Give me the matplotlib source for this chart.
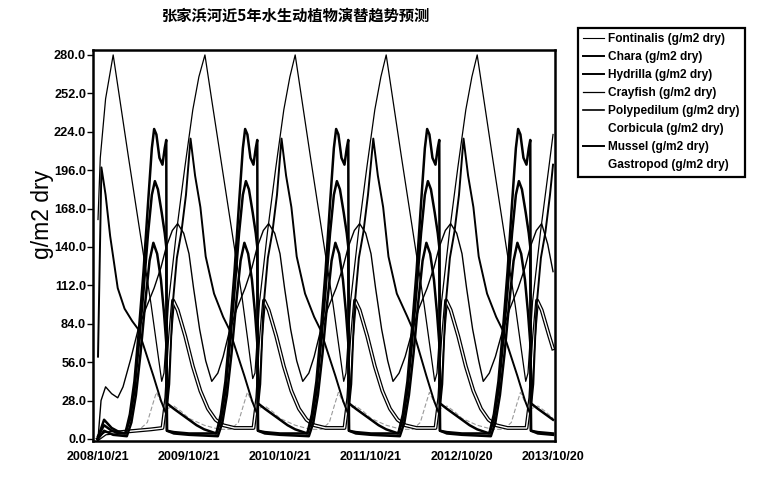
import matplotlib.pyplot as plt
import matplotlib.patheffects as pe
from matplotlib.lines import Line2D

plt.rcParams["font.family"] = ["Liberation Sans", "DejaVu Sans"]

TITLE = "张家浜河近5年水生动植物演替趋势预测"
Y_LABEL = "g/m2 dry"
TICK_MONTHS = [0, 12, 24, 36, 48, 60]
TICK_DATES = ["2008/10/21", "2009/10/21", "2010/10/21", "2011/10/21", "2012/10/20", "2013/10/20"]
Y_TICKS = [0, 28, 56, 84, 112, 140, 168, 196, 224, 252, 280]

NAMES = [
    "Fontinalis (g/m2 dry)",
    "Chara (g/m2 dry)",
    "Hydrilla (g/m2 dry)",
    "Crayfish (g/m2 dry)",
    "Polypedilum (g/m2 dry)",
    "Corbicula (g/m2 dry)",
    "Mussel (g/m2 dry)",
    "Gastropod (g/m2 dry)",
]

# months since 2008/10/21 and biomass (g/m2 dry)
fontinalis_m = [0.0, 0.3, 1.0, 2.0, 3.0, 4.0, 5.0, 6.0, 7.0, 7.8, 8.4, 8.7, 9.3, 10.35, 11.45,
                12.5, 13.3, 14.1, 15.0, 16.0, 17.0, 18.0, 19.0, 19.8, 20.4, 20.7, 21.3, 22.35, 23.45,
                24.5, 25.3, 26.0, 27.0, 28.0, 29.0, 30.0, 31.0, 31.8, 32.4, 32.7, 33.3, 34.35, 35.45,
                36.5, 37.3, 38.0, 39.0, 40.0, 41.0, 42.0, 43.0, 43.8, 44.4, 44.7, 45.3, 46.35, 47.45,
                48.5, 49.3, 50.0, 51.0, 52.0, 53.0, 54.0, 55.0, 55.8, 56.4, 56.7, 57.3, 58.35, 59.45, 60.0]
fontinalis_v = [160, 205, 248, 280, 243, 206, 170, 134, 98, 66, 42, 48, 100, 151, 198,
                240, 264, 280, 247, 211, 175, 139, 103, 70, 44, 48, 100, 151, 198,
                240, 264, 280, 243, 206, 170, 134, 98, 66, 42, 48, 100, 151, 198,
                240, 264, 280, 243, 206, 170, 134, 98, 66, 42, 48, 100, 151, 198,
                240, 264, 280, 243, 206, 170, 134, 98, 66, 42, 48, 100, 151, 198, 222]

chara_m = [0.0, 0.8, 1.8, 2.8,
           3.6, 4.2, 4.8, 5.4, 6.0, 6.6, 7.1, 7.4, 7.7, 8.1, 8.5, 8.8, 9.0, 9.08, 10.0, 12.0,
           15.6, 16.2, 16.8, 17.4, 18.0, 18.6, 19.1, 19.4, 19.7, 20.1, 20.5, 20.8, 21.0, 21.08, 22.0, 24.0,
           27.6, 28.2, 28.8, 29.4, 30.0, 30.6, 31.1, 31.4, 31.7, 32.1, 32.5, 32.8, 33.0, 33.08, 34.0, 36.0,
           39.6, 40.2, 40.8, 41.4, 42.0, 42.6, 43.1, 43.4, 43.7, 44.1, 44.5, 44.8, 45.0, 45.08, 46.0, 48.0,
           51.6, 52.2, 52.8, 53.4, 54.0, 54.6, 55.1, 55.4, 55.7, 56.1, 56.5, 56.8, 57.0, 57.08, 58.0, 60.0]
chara_v = [2, 10, 6, 4,
           4, 18, 42, 80, 122, 172, 212, 226, 222, 205, 200, 212, 218, 6, 5, 4,
           4, 18, 42, 80, 122, 172, 212, 226, 222, 205, 200, 212, 218, 6, 5, 4,
           4, 18, 42, 80, 122, 172, 212, 226, 222, 205, 200, 212, 218, 6, 5, 4,
           4, 18, 42, 80, 122, 172, 212, 226, 222, 205, 200, 212, 218, 6, 5, 4,
           4, 18, 42, 80, 122, 172, 212, 226, 222, 205, 200, 212, 218, 6, 5, 4]

hydrilla_m = [0.0, 0.8, 1.8, 2.8,
              3.6, 4.2, 4.8, 5.4, 6.0, 6.6, 7.1, 7.5, 7.9, 8.4, 8.8, 9.0, 9.08, 10.0, 11.0, 12.0, 13.0, 14.0,
              15.6, 16.2, 16.8, 17.4, 18.0, 18.6, 19.1, 19.5, 19.9, 20.4, 20.8, 21.0, 21.08, 22.0, 23.0, 24.0, 25.0, 26.0,
              27.6, 28.2, 28.8, 29.4, 30.0, 30.6, 31.1, 31.5, 31.9, 32.4, 32.8, 33.0, 33.08, 34.0, 35.0, 36.0, 37.0, 38.0,
              39.6, 40.2, 40.8, 41.4, 42.0, 42.6, 43.1, 43.5, 43.9, 44.4, 44.8, 45.0, 45.08, 46.0, 47.0, 48.0, 49.0, 50.0,
              51.6, 52.2, 52.8, 53.4, 54.0, 54.6, 55.1, 55.5, 55.9, 56.4, 56.8, 57.0, 57.08, 58.0, 59.0, 60.0]
hydrilla_v = [1, 14, 8, 5,
              4, 14, 35, 70, 108, 150, 178, 188, 182, 165, 150, 140, 26, 22, 18, 14, 10, 7,
              4, 14, 35, 70, 108, 150, 178, 188, 182, 165, 150, 140, 26, 22, 18, 14, 10, 7,
              4, 14, 35, 70, 108, 150, 178, 188, 182, 165, 150, 140, 26, 22, 18, 14, 10, 7,
              4, 14, 35, 70, 108, 150, 178, 188, 182, 165, 150, 140, 26, 22, 18, 14, 10, 7,
              4, 14, 35, 70, 108, 150, 178, 188, 182, 165, 150, 140, 26, 22, 18, 14]

crayfish_m = [0.0, 0.4, 1.0, 1.8, 2.6, 3.3, 4.3, 5.3, 6.3, 7.4, 8.3, 9.0, 9.8, 10.5, 11.3,
              12.0, 12.6, 13.4, 14.2, 15.0, 15.8, 16.5, 17.3, 18.3, 19.4, 20.3, 21.0, 21.8, 22.5, 23.3,
              24.0, 24.6, 25.4, 26.2, 27.0, 27.8, 28.5, 29.3, 30.3, 31.4, 32.3, 33.0, 33.8, 34.5, 35.3,
              36.0, 36.6, 37.4, 38.2, 38.9, 39.7, 40.5, 41.4, 42.3, 43.4, 44.3, 45.0, 45.8, 46.5, 47.3,
              48.0, 48.6, 49.4, 50.2, 50.8, 51.6, 52.4, 53.3, 54.3, 55.4, 56.3, 57.0, 57.8, 58.5, 59.3, 60.0]
crayfish_v = [0, 28, 38, 33, 30, 38, 58, 80, 95, 110, 125, 140, 152, 157, 150,
              135, 110, 80, 57, 42, 48, 60, 78, 95, 110, 125, 140, 152, 157, 150,
              135, 110, 80, 57, 42, 48, 60, 78, 95, 110, 125, 140, 152, 157, 150,
              135, 110, 80, 57, 42, 48, 60, 78, 95, 110, 125, 140, 152, 157, 150,
              135, 110, 80, 57, 42, 48, 60, 78, 95, 110, 125, 140, 152, 157, 142, 122]

polypedilum_m = [0.0, 0.8, 2.0,
                 3.8, 4.4, 5.0, 5.6, 6.2, 6.8, 7.3, 7.8, 8.3, 8.7, 9.0, 9.1, 10.0, 12.0,
                 15.8, 16.4, 17.0, 17.6, 18.2, 18.8, 19.3, 19.8, 20.3, 20.7, 21.0, 21.1, 22.0, 24.0,
                 27.8, 28.4, 29.0, 29.6, 30.2, 30.8, 31.3, 31.8, 32.3, 32.7, 33.0, 33.1, 34.0, 36.0,
                 39.8, 40.4, 41.0, 41.6, 42.2, 42.8, 43.3, 43.8, 44.3, 44.7, 45.0, 45.1, 46.0, 48.0,
                 51.8, 52.4, 53.0, 53.6, 54.2, 54.8, 55.3, 55.8, 56.3, 56.7, 57.0, 57.1, 58.0, 60.0]
polypedilum_v = [0, 6, 3,
                 2, 12, 32, 62, 98, 130, 143, 135, 116, 92, 70, 6, 4, 3,
                 2, 12, 32, 62, 98, 130, 143, 135, 116, 92, 70, 6, 4, 3,
                 2, 12, 32, 62, 98, 130, 143, 135, 116, 92, 70, 6, 4, 3,
                 2, 12, 32, 62, 98, 130, 143, 135, 116, 92, 70, 6, 4, 3,
                 2, 12, 32, 62, 98, 130, 143, 135, 116, 92, 70, 6, 4, 3]

corbicula_m = [0.0, 1.0, 3.0, 5.0, 7.0,
               8.5, 9.0, 9.5, 9.9, 10.5, 11.5, 12.5, 13.5, 14.5, 15.5, 16.5, 18.0,
               20.5, 21.0, 21.5, 21.9, 22.5, 23.5, 24.5, 25.5, 26.5, 27.5, 28.5, 30.0,
               32.5, 33.0, 33.5, 33.9, 34.5, 35.5, 36.5, 37.5, 38.5, 39.5, 40.5, 42.0,
               44.5, 45.0, 45.5, 45.9, 46.5, 47.5, 48.5, 49.5, 50.5, 51.5, 52.5, 54.0,
               56.5, 57.0, 57.5, 57.9, 58.5, 59.5, 60.0]
corbicula_v = [0, 4, 5, 6, 7,
               8, 30, 75, 101, 94, 75, 53, 35, 22, 14, 10, 8,
               8, 30, 75, 101, 94, 75, 53, 35, 22, 14, 10, 8,
               8, 30, 75, 101, 94, 75, 53, 35, 22, 14, 10, 8,
               8, 30, 75, 101, 94, 75, 53, 35, 22, 14, 10, 8,
               8, 30, 75, 101, 94, 75, 66]

mussel_m = [0.0, 0.45, 1.0, 1.6, 2.6, 3.5, 4.5, 5.3, 6.3, 7.3, 8.3, 9.0, 9.4, 9.8, 10.4, 11.0, 11.6,
            12.2, 12.8, 13.5, 14.2, 15.3, 16.5, 17.3, 18.3, 19.3, 20.3, 21.0, 21.4, 21.8, 22.4, 23.0, 23.6,
            24.2, 24.8, 25.5, 26.2, 27.3, 28.5, 29.3, 30.3, 31.3, 32.3, 33.0, 33.4, 33.8, 34.4, 35.0, 35.6,
            36.3, 36.9, 37.6, 38.3, 39.4, 40.8, 41.5, 42.4, 43.3, 44.3, 45.0, 45.4, 45.8, 46.4, 47.0, 47.6,
            48.2, 48.8, 49.5, 50.2, 51.3, 52.5, 53.3, 54.3, 55.3, 56.3, 57.0, 57.4, 57.8, 58.4, 59.0, 59.6, 60.0]
mussel_v = [60, 198, 178, 148, 110, 95, 86, 80, 63, 46, 28, 18, 40, 95, 132, 151, 178,
            219, 192, 169, 133, 106, 89, 80, 63, 46, 28, 18, 40, 95, 132, 151, 178,
            219, 192, 169, 133, 106, 89, 80, 63, 46, 28, 18, 40, 95, 132, 151, 178,
            219, 192, 169, 133, 106, 89, 80, 63, 46, 28, 18, 40, 95, 132, 151, 178,
            219, 192, 169, 133, 106, 89, 80, 63, 46, 28, 18, 40, 95, 132, 151, 178, 200]

gastropod_m = [0.0, 1.0, 3.0,
               5.5, 6.5, 7.2, 7.7, 8.3, 9.1, 10.0, 11.0, 12.0, 14.0, 16.0,
               17.5, 18.5, 19.2, 19.7, 20.3, 21.1, 22.0, 23.0, 24.0, 26.0, 28.0,
               29.5, 30.5, 31.2, 31.7, 32.3, 33.1, 34.0, 35.0, 36.0, 38.0, 40.0,
               41.5, 42.5, 43.2, 43.7, 44.3, 45.1, 46.0, 47.0, 48.0, 50.0, 52.0,
               53.5, 54.5, 55.2, 55.7, 56.3, 57.1, 58.0, 59.0, 60.0]
gastropod_v = [0, 5, 6,
               7, 12, 25, 34, 27, 22, 24, 20, 15, 10, 7,
               7, 12, 25, 34, 27, 22, 24, 20, 15, 10, 7,
               7, 12, 25, 34, 27, 22, 24, 20, 15, 10, 7,
               7, 12, 25, 34, 27, 22, 24, 20, 15, 10, 7,
               7, 12, 25, 34, 27, 22, 24, 20, 15]


fig = plt.figure(figsize=(7.68, 4.86), dpi=100)
ax = fig.add_axes([93 / 768, 45 / 486, 462 / 768, 391 / 486])

# faint grey lines first, the hollow band next, then the black curves on top
ax.plot(gastropod_m, gastropod_v, color="#9a9a9a", lw=0.8, dashes=(4, 2))
ax.plot(corbicula_m, corbicula_v, color="white", lw=1.0,
        path_effects=[pe.Stroke(linewidth=2.8, foreground="black"), pe.Normal()])
ax.plot(fontinalis_m, fontinalis_v, color="black", lw=0.9)
ax.plot(crayfish_m, crayfish_v, color="black", lw=1.0)
ax.plot(mussel_m, mussel_v, color="black", lw=1.4)
ax.plot(polypedilum_m, polypedilum_v, color="black", lw=1.8)
ax.plot(hydrilla_m, hydrilla_v, color="black", lw=1.8)
ax.plot(chara_m, chara_v, color="black", lw=1.8)

ax.set_xlim(-0.66, 60.26)
ax.set_ylim(-1.5, 283.6)
ax.set_xticks(TICK_MONTHS, TICK_DATES, fontsize=9, fontweight="bold")
ax.set_yticks(Y_TICKS, [f"{v:.1f}" for v in Y_TICKS], fontsize=9.2, fontweight="bold")
ax.tick_params(axis="y", direction="out", length=4, width=1, pad=1)
ax.tick_params(axis="x", direction="out", length=0, pad=7)
for side in ax.spines.values():
    side.set_linewidth(1.8)

fig.text(43 / 768, 1 - 214 / 486, Y_LABEL, rotation=90, ha="center", va="center", fontsize=16.5)
fig.text(296 / 768, 1 - 16 / 486, TITLE, ha="center", va="center", fontsize=11,
         fontweight="bold", family=["Noto Sans CJK SC", "DejaVu Sans"])

# Corbicula and Gastropod carry no visible swatch in the key
handles = [
    Line2D([], [], color="black", lw=0.8),
    Line2D([], [], color="black", lw=1.4),
    Line2D([], [], color="black", lw=1.4),
    Line2D([], [], color="black", lw=0.9),
    Line2D([], [], color="black", lw=1.2),
    Line2D([], [], color="white", lw=1.0),
    Line2D([], [], color="black", lw=1.4),
    Line2D([], [], color="white", lw=1.0),
]
leg = fig.legend(handles, NAMES, loc="upper left", bbox_to_anchor=(578 / 768, 1 - 28 / 486),
                 frameon=True, fancybox=False, edgecolor="black", framealpha=1,
                 borderpad=0.45, labelspacing=0.5, handlelength=1.7, handletextpad=0.35,
                 borderaxespad=0, prop={"weight": "bold", "size": 8.6})
leg.get_frame().set_linewidth(1.6)

fig.savefig("out.png", dpi=100)
